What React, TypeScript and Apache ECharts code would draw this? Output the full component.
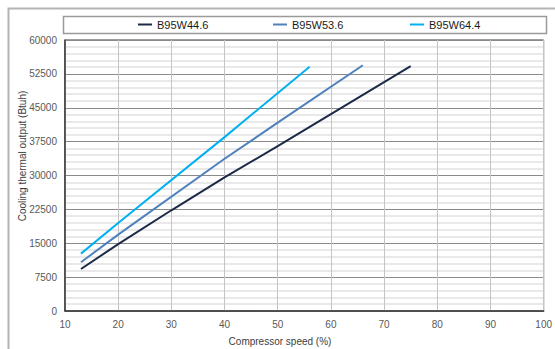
import React, { useEffect, useRef } from "react";
import * as echarts from "echarts";

// Compressor speed (%) and cooling output (Btuh) per supply condition
const speedsW446 = [13, 20, 30, 40, 50, 75];
const outputW446 = [9300, 14800, 22300, 29600, 36500, 54200];

const speedsW536 = [13, 20, 40, 50, 66];
const outputW536 = [10800, 16900, 33700, 41700, 54400];

const speedsW644 = [13, 20, 40, 56];
const outputW644 = [12700, 19500, 38500, 54100];

const seriesNames = ["B95W44.6", "B95W53.6", "B95W64.4"];
const seriesColors = ["#1c2a48", "#4f81bd", "#00b0f0"];

const xTicks = { min: 10, max: 100, interval: 10 };
const yTicks = { min: 0, max: 60000, interval: 7500 };

const xTitle = "Compressor speed (%)";
const yTitle = "Cooling thermal output (Btuh)";

const pairs = (xs: number[], ys: number[]) => xs.map((x, i) => [x, ys[i]]);

export default function App() {
  const ref = useRef<HTMLDivElement>(null);

  useEffect(() => {
    if (!ref.current) return;
    const chart = echarts.init(ref.current, null, { renderer: "svg" });
    const font = "'Liberation Sans', Arial, sans-serif";
    const data = [
      pairs(speedsW446, outputW446),
      pairs(speedsW536, outputW536),
      pairs(speedsW644, outputW644),
    ];
    const legendLefts = [138, 273, 410];

    chart.setOption({
      animation: false,
      backgroundColor: "#ffffff",
      textStyle: { fontFamily: font },
      grid: {
        left: 65,
        top: 40,
        width: 481,
        height: 271,
        show: true,
        borderColor: "#3a3a3a",
        borderWidth: 1,
        backgroundColor: "transparent",
      },
      legend: seriesNames.map((name, i) => ({
        data: [name],
        left: legendLefts[i],
        top: 19,
        padding: 0,
        icon: "rect",
        itemWidth: 14,
        itemHeight: 2,
        textStyle: { fontFamily: font, fontSize: 11, color: "#1a1a1a" },
        selectedMode: false,
      })),
      xAxis: {
        type: "value",
        min: xTicks.min,
        max: xTicks.max,
        interval: xTicks.interval,
        axisLine: { show: true, lineStyle: { color: "#3a3a3a", width: 1.5 } },
        axisTick: { show: false },
        axisLabel: { color: "#595959", fontSize: 10, margin: 8, fontFamily: font },
        splitLine: { show: true, lineStyle: { color: "#c4c4c4", width: 1 } },
      },
      yAxis: {
        type: "value",
        min: yTicks.min,
        max: yTicks.max,
        interval: yTicks.interval,
        axisLine: { show: true, lineStyle: { color: "#3a3a3a", width: 1.5 } },
        axisTick: { show: false },
        axisLabel: {
          color: "#595959",
          fontSize: 10,
          margin: 8,
          fontFamily: font,
          formatter: (v: number) => String(v),
        },
        splitLine: { show: true, lineStyle: { color: "#8a8a8a", width: 1 } },
        minorTick: { show: false, splitNumber: 5 },
        minorSplitLine: { show: true, lineStyle: { color: "#e2e2e2", width: 1.5 } },
      },
      series: seriesNames.map((name, i) => ({
        name,
        type: "line",
        data: data[i],
        showSymbol: false,
        symbol: "none",
        color: seriesColors[i],
        lineStyle: { color: seriesColors[i], width: 2 },
        z: 3,
      })),
      graphic: [
        {
          type: "rect",
          shape: { x: 8.5, y: 8.5, width: 620, height: 420 },
          style: { fill: "none", stroke: "#b4b4b4", lineWidth: 2 },
          silent: true,
          z: -1,
        },
        {
          type: "rect",
          shape: { x: 63.5, y: 16.5, width: 483, height: 17 },
          style: { fill: "none", stroke: "#9a9a9a", lineWidth: 1.5 },
          silent: true,
        },
        {
          type: "text",
          x: 280,
          y: 341,
          style: {
            text: xTitle,
            fontFamily: font,
            fontSize: 10,
            fill: "#404040",
            align: "center",
            verticalAlign: "middle",
          },
        },
        {
          type: "text",
          x: 22,
          y: 156,
          rotation: Math.PI / 2,
          style: {
            text: yTitle,
            fontFamily: font,
            fontSize: 10,
            fill: "#404040",
            align: "center",
            verticalAlign: "middle",
          },
        },
      ],
    });

    return () => chart.dispose();
  }, []);

  return (
    <div
      ref={ref}
      style={{ position: "absolute", left: 0, top: 0, width: 555, height: 349 }}
    />
  );
}
